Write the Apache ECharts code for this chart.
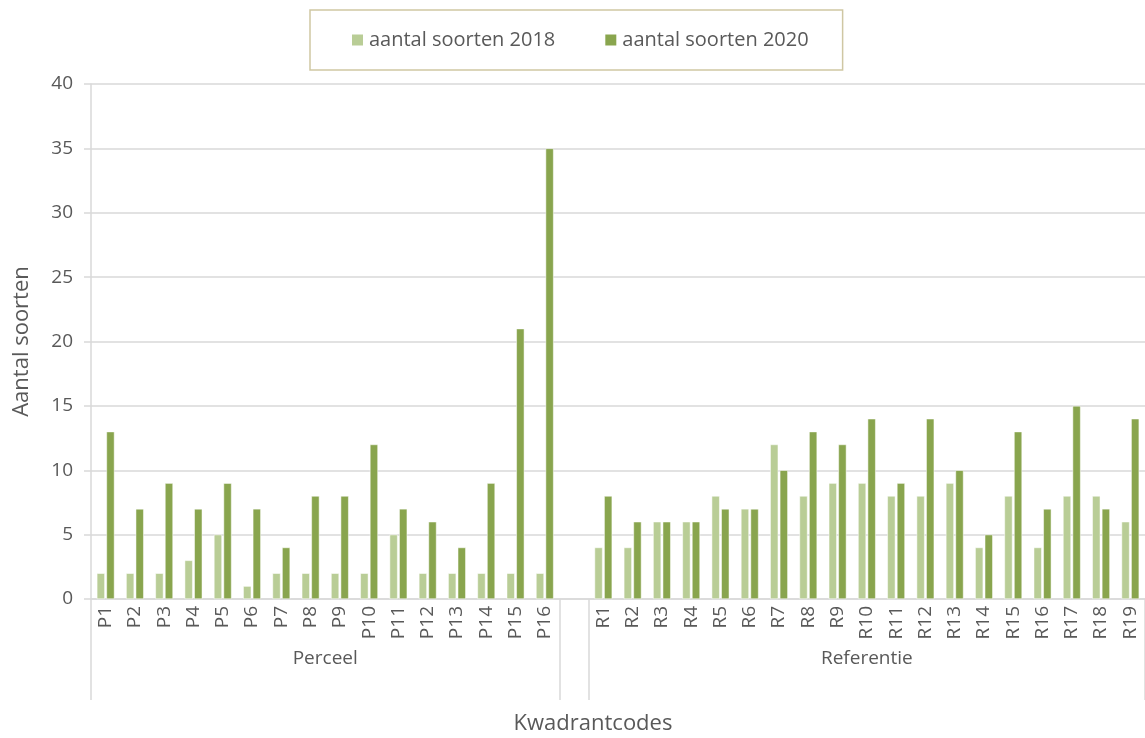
<!DOCTYPE html>
<html>
<head>
<meta charset="utf-8">
<script src="https://cdn.jsdelivr.net/npm/echarts@6/dist/echarts.min.js"></script>
<style>
html,body{margin:0;padding:0;background:#fff;}
#c{width:1145px;height:738px;}
</style>
</head>
<body>
<div id="c"></div>
<script>
// ---- data ----
var perceelCodes = ['P1','P2','P3','P4','P5','P6','P7','P8','P9','P10','P11','P12','P13','P14','P15','P16'];
var referentieCodes = ['R1','R2','R3','R4','R5','R6','R7','R8','R9','R10','R11','R12','R13','R14','R15','R16','R17','R18','R19'];
var perceel2018 = [2,2,2,3,5,1,2,2,2,2,5,2,2,2,2,2];
var perceel2020 = [13,7,9,7,9,7,4,8,8,12,7,6,4,9,21,35];
var referentie2018 = [4,4,6,6,8,7,12,8,9,9,8,8,9,4,8,4,8,8,6];
var referentie2020 = [8,6,6,6,7,7,10,13,12,14,9,14,10,5,13,7,15,7,14];
var groupNames = ['Perceel','Referentie'];
var seriesNames = ['aantal soorten 2018','aantal soorten 2020'];
var yTicks = [0,5,10,15,20,25,30,35,40];

// ---- build ----
var categories = perceelCodes.concat(['']).concat(referentieCodes);
var s2018 = perceel2018.concat([null]).concat(referentie2018);
var s2020 = perceel2020.concat([null]).concat(referentie2020);
var nCat = categories.length;
var halfSlots = [];
for (var i = 0; i <= nCat * 2; i++) halfSlots.push(i);
var pCount = perceelCodes.length, rCount = referentieCodes.length;
var sepIdx = [0, pCount * 2, (pCount + 1) * 2, nCat * 2];
var labelIdx = {};
labelIdx[pCount] = groupNames[0];
labelIdx[(pCount + 1) * 2 + rCount] = groupNames[1];

var FONT = '"Open Sans"';
var grey = '#595959';
var lineGrey = '#d9d9d9';

var chart = echarts.init(document.getElementById('c'));
chart.setOption({
  animation: false,
  textStyle: {fontFamily: FONT},
  grid: {left: 91, right: 0, top: 84, bottom: 139, containLabel: false, outerBoundsMode: 'none'},
  legend: {
    data: seriesNames,
    left: 310, top: 10,
    padding: [20, 34, 20, 40],
    borderColor: '#cfc7a3', borderWidth: 1.5,
    itemWidth: 13, itemHeight: 13, itemGap: 48,
    icon: 'rect',
    textStyle: {color: grey, fontSize: 20, fontFamily: FONT}
  },
  xAxis: [{
    type: 'category',
    data: categories,
    boundaryGap: true,
    axisLine: {show: true, lineStyle: {color: lineGrey, width: 1.5}},
    axisTick: {show: false},
    axisLabel: {rotate: 90, interval: 0, color: grey, fontSize: 19, margin: 7, fontFamily: FONT}
  }, {
    type: 'category',
    data: halfSlots,
    boundaryGap: false,
    position: 'bottom',
    axisLine: {show: false},
    axisTick: {
      show: true, length: 101, inside: false,
      interval: function (idx) { return sepIdx.indexOf(idx) >= 0; },
      lineStyle: {color: lineGrey, width: 1.5}
    },
    axisLabel: {
      show: true,
      interval: function (idx) { return labelIdx[idx] !== undefined; },
      formatter: function (v, idx) { return labelIdx[idx] || ''; },
      color: grey, fontSize: 19, margin: 50, fontFamily: FONT
    },
    splitLine: {show: false}
  }],
  yAxis: {
    type: 'value',
    min: yTicks[0], max: yTicks[yTicks.length - 1], interval: yTicks[1] - yTicks[0],
    name: 'Aantal soorten',
    nameLocation: 'middle',
    nameGap: 58,
    nameTextStyle: {color: grey, fontSize: 22, fontFamily: FONT},
    axisLine: {show: true, lineStyle: {color: lineGrey, width: 1.5}},
    axisTick: {show: true, length: 7, lineStyle: {color: lineGrey, width: 1.5}},
    axisLabel: {color: grey, fontSize: 19, margin: 18, fontFamily: FONT},
    splitLine: {show: true, lineStyle: {color: lineGrey, width: 1.5}}
  },
  graphic: [{
    type: 'text',
    x: 593, y: 724,
    style: {text: 'Kwadrantcodes', fill: grey, font: '22px ' + FONT, textAlign: 'center', textVerticalAlign: 'middle'}
  }],
  series: [{
    name: seriesNames[0],
    type: 'bar',
    data: s2018,
    barWidth: 8,
    barGap: '20%',
    itemStyle: {color: '#b9cd96', borderColor: '#ffffff', borderWidth: 0.5}
  }, {
    name: seriesNames[1],
    type: 'bar',
    data: s2020,
    barWidth: 8,
    barGap: '20%',
    itemStyle: {color: '#89a54e', borderColor: '#ffffff', borderWidth: 0.5}
  }]
});
</script>
</body>
</html>
